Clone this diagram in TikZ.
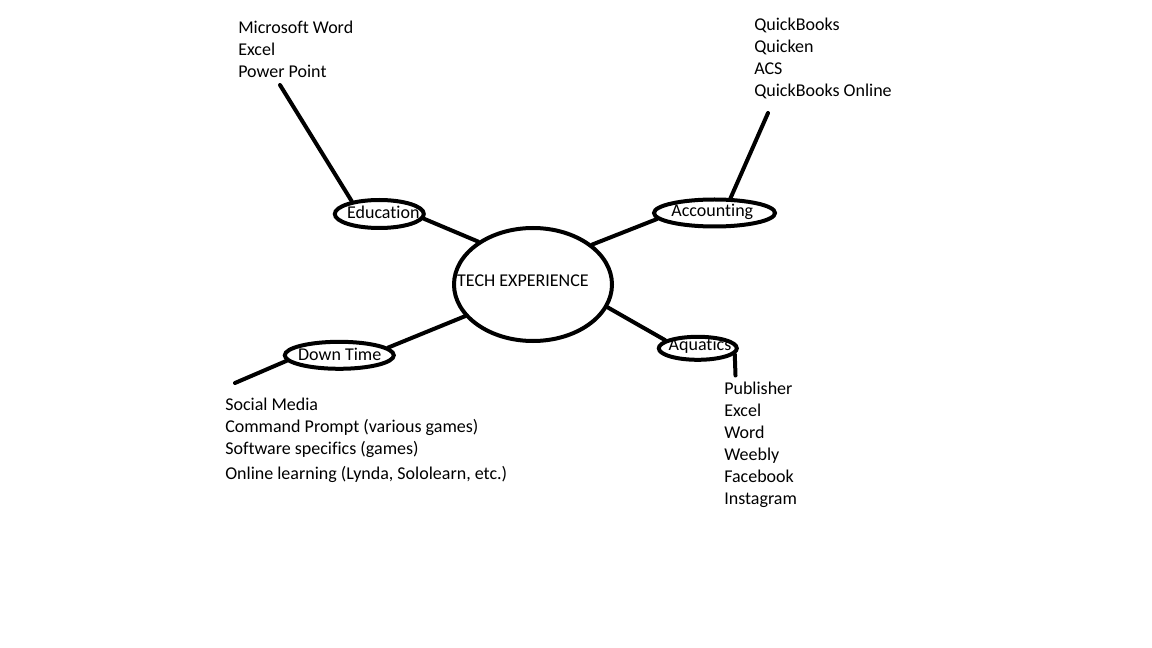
\documentclass[tikz,border=0pt]{standalone}
\usepackage{fontspec}
\setmainfont{Carlito}[Ligatures=NoCommon]
\usepackage{tikz}
\usetikzlibrary{shapes,calc,positioning}
\tikzset{>=latex}
\tikzset{bubble/.style={ellipse, draw, line width=3pt, inner sep=0pt},
  txt/.style={inner sep=0pt, font=\fontsize{13.5}{16.5}\selectfont},
  item/.style={txt, anchor=base west},
  link/.style={line width=3pt, line cap=round}}

\begin{document}
\begin{tikzpicture}[x=0.75pt,y=-0.75pt]
\useasboundingbox (0,0) rectangle (1152,648);

\node[bubble, minimum width=118.5pt, minimum height=84.75pt] (tech) at (533,284.5) {};
\node[bubble, minimum width=66.75pt, minimum height=21pt] (edu) at (379.3,214) {};
\node[bubble, minimum width=90.75pt, minimum height=20.25pt] (acc) at (714.5,213) {};
\node[bubble, minimum width=81.75pt, minimum height=20.25pt] (down) at (339.3,355.3) {};
\node[bubble, minimum width=58.5pt, minimum height=17.25pt] (aqu) at (697.8,348.3) {};

\node[txt, anchor=base] (techtxt) at (523,287) {TECH EXPERIENCE};
\node[txt, anchor=base] (edutxt) at (383.3,218.3) {Education};
\node[txt, anchor=base] (acctxt) at (712.3,217) {Accounting};
\node[txt, anchor=base] (downtxt) at (339.7,360.7) {Down Time};
\node[txt, anchor=base] (aqutxt) at (700,350.5) {Aquatics};

\coordinate (eduend) at (280,85);
\coordinate (accend) at (768,113);
\coordinate (downend) at (235,383);
\coordinate (aquend) at (735.5,375.5);

\draw[link] (eduend) -- (edu.155);
\draw[link] (edu.-6) -- (tech.142);
\draw[link] (accend) -- (acc.43);
\draw[link] (acc.186) -- (tech.34);
\draw[link] (down.9) -- (tech.205);
\draw[link] (downend) -- (down.186);
\draw[link] (aqu.166) -- (tech.-17);
\draw[link] (aqu.-9) -- (aquend);

\node[item] (e1) at (238,34) {Microsoft Word};
\node[item] (e2) at (238,56) {Excel};
\node[item] (e3) at (238,78) {Power Point};

\node[item] (a1) at (754,31) {QuickBooks};
\node[item] (a2) at (754,53) {Quicken};
\node[item] (a3) at (754,75) {ACS};
\node[item] (a4) at (754,97) {QuickBooks Online};

\node[item] (d1) at (225,410) {Social Media};
\node[item] (d2) at (225,432) {Command Prompt (various games)};
\node[item] (d3) at (225,454) {Software specifics (games)};
\node[item] (d4) at (225,479) {Online learning (Lynda, Sololearn, etc.)};

\node[item] (q1) at (724,394) {Publisher};
\node[item] (q2) at (724,416) {Excel};
\node[item] (q3) at (724,438) {Word};
\node[item] (q4) at (724,460) {Weebly};
\node[item] (q5) at (724,482) {Facebook};
\node[item] (q6) at (724,504) {Instagram};
\end{tikzpicture}
\end{document}
